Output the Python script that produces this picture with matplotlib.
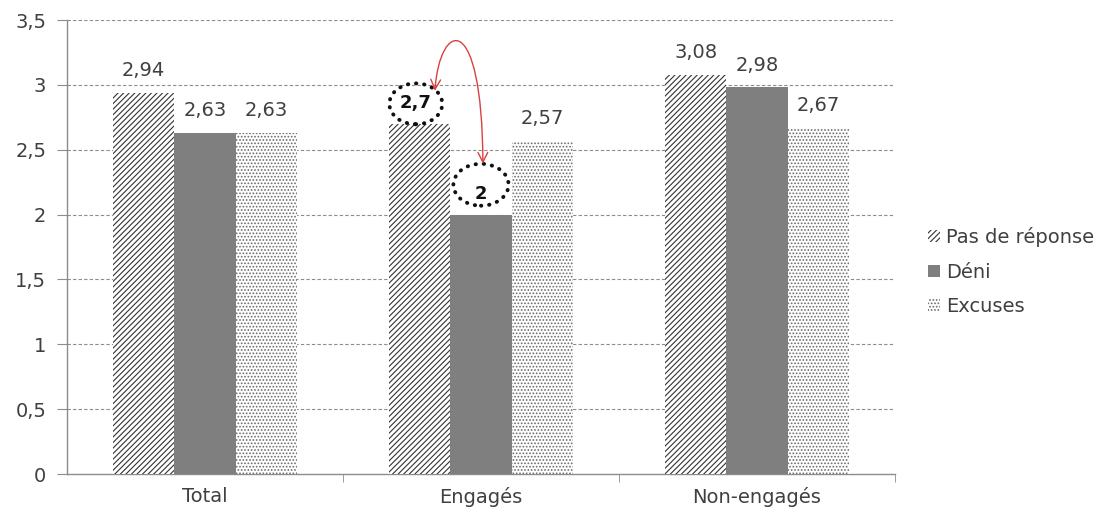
import matplotlib.pyplot as plt
import matplotlib.patches as mpatches
from matplotlib.path import Path
import numpy as np

plt.rcParams['font.family'] = ['DejaVu Sans']
plt.rcParams['hatch.linewidth'] = 0.8

categories = ['Total', 'Engagés', 'Non-engagés']
series_names = ['Pas de réponse', 'Déni', 'Excuses']
pas_de_reponse = [2.94, 2.70, 3.08]
deni = [2.63, 2.00, 2.98]
excuses = [2.63, 2.57, 2.67]
yticks = [0, 0.5, 1, 1.5, 2, 2.5, 3, 3.5]
ytick_labels = ['0', '0,5', '1', '1,5', '2', '2,5', '3', '3,5']

txt = '#404040'
grid_c = '#8c8c8c'

fig = plt.figure(figsize=(11.09, 5.15), dpi=100)
ax = fig.add_axes([0.0604, 0.0796, 0.7466, 0.8815])

x = np.arange(len(categories))
w = 0.222
styles = [
    dict(facecolor='white', edgecolor='#333333', hatch='//////'),
    dict(facecolor='#7f7f7f', edgecolor='#7f7f7f', hatch=None),
    dict(facecolor='white', edgecolor='#6a6a6a', hatch='.....'),
]
bars = []
for i, (vals, st) in enumerate(zip([pas_de_reponse, deni, excuses], styles)):
    b = ax.bar(x + (i - 1) * w, vals, w, linewidth=0, label=series_names[i], zorder=3, **st)
    bars.append(b)

def fmt(v):
    s = ('%.2f' % v).rstrip('0').rstrip('.')
    return s.replace('.', ',')

# values circled in the original get their own spot
highlight = {(0, 1): (-0.014, 0.16), (1, 1): (0.0, 0.16)}
for i, vals in enumerate([pas_de_reponse, deni, excuses]):
    for j, v in enumerate(vals):
        xc = x[j] + (i - 1) * w
        if (i, j) in highlight:
            dx, dy = highlight[(i, j)]
            ax.text(xc + dx, v + dy, fmt(v), ha='center', va='center', fontsize=13,
                    fontweight='bold', color='#111111', zorder=5)
        else:
            ax.text(xc, v + 0.1, fmt(v), ha='center', va='bottom', fontsize=14,
                    color=txt, zorder=5)

# dotted ellipses
for c, ew, eh in [((0.764, 2.854), 0.192, 0.315), ((1.0, 2.23), 0.2, 0.323)]:
    e = mpatches.Ellipse(c, ew, eh, fill=False, linestyle=(0, (0.1, 2.0)),
                         linewidth=2.8, edgecolor='#111111', zorder=6)
    e.set_capstyle('round')
    ax.add_patch(e)

# red double arrow looping over the top
arc = Path([(0.833, 2.954), (0.851, 3.49), (1.004, 3.6), (1.007, 2.392)],
           [Path.MOVETO, Path.CURVE4, Path.CURVE4, Path.CURVE4])
arr = mpatches.FancyArrowPatch(path=arc, arrowstyle='<->,head_length=7,head_width=3.5',
                               color='#d9413f', linewidth=1, zorder=7, clip_on=False)
ax.add_patch(arr)

ax.set_xlim(-0.5, 2.5)
ax.set_ylim(0, 3.5)
ax.set_yticks(yticks)
ax.set_yticklabels(ytick_labels)
ax.set_xticks(x)
ax.set_xticklabels(categories)
ax.set_xticks([0.5, 1.5, 2.5], minor=True)
ax.tick_params(axis='x', which='major', length=0, pad=9, labelsize=14, labelcolor=txt)
ax.tick_params(axis='x', which='minor', length=6, color=grid_c)
ax.tick_params(axis='y', length=7, color=grid_c, labelsize=14, labelcolor=txt, pad=8)

for yv in yticks[1:]:
    ax.axhline(yv, color=grid_c, linestyle=(0, (3, 2)), linewidth=0.8, zorder=1)

for s in ['top', 'right']:
    ax.spines[s].set_visible(False)
for s in ['left', 'bottom']:
    ax.spines[s].set_color(grid_c)
    ax.spines[s].set_linewidth(1)

leg = fig.legend(handles=[b[0] for b in bars], labels=series_names, loc='upper left',
                 bbox_to_anchor=(0.837, 0.559), frameon=False, fontsize=14,
                 borderpad=0, borderaxespad=0,
                 handlelength=0.6, handleheight=0.6, handletextpad=0.3, labelspacing=0.8)
for t in leg.get_texts():
    t.set_color(txt)

fig.savefig('out.png', dpi=100)
